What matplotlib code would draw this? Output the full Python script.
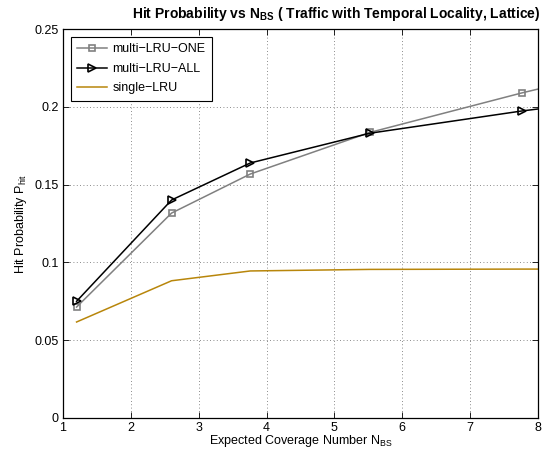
import matplotlib
matplotlib.use("Agg")
import matplotlib.pyplot as plt

# data
x_vals = [1.2, 2.6, 3.76, 5.52, 7.76, 10.0]
one_vals = [0.0713, 0.1317, 0.1568, 0.1835, 0.2089, 0.2322]
all_vals = [0.0750, 0.1401, 0.1639, 0.1830, 0.1973, 0.2094]
single_vals = [0.0617, 0.0882, 0.0945, 0.0955, 0.0957, 0.0957]
series_labels = ["multi\u2212LRU\u2212ONE", "multi\u2212LRU\u2212ALL", "single\u2212LRU"]
x_ticks = [1, 2, 3, 4, 5, 6, 7, 8]
y_ticks = [0, 0.05, 0.1, 0.15, 0.2, 0.25]
y_ticklabels = ["0", "0.05", "0.1", "0.15", "0.2", "0.25"]

plt.rcParams['font.family'] = ['Liberation Sans', 'DejaVu Sans']
plt.rcParams['mathtext.fontset'] = 'custom'
plt.rcParams['mathtext.rm'] = 'Liberation Sans'
plt.rcParams['mathtext.bf'] = 'Liberation Sans:bold'

fig = plt.figure(figsize=(5.45, 4.5), dpi=100)
ax = fig.add_axes([63/545, 1-418/450, (538-63)/545, (418-29)/450])

ax.plot(x_vals, one_vals, color='#808080', lw=1.1, marker='s', ms=4.5,
        mfc='none', mec='#808080', mew=1.2, label=series_labels[0])
ax.plot(x_vals, all_vals, color='black', lw=1.1, marker='>', ms=5.5,
        mfc='none', mec='black', mew=1.2, label=series_labels[1])
ax.plot(x_vals, single_vals, color='#B8860B', lw=1.1, label=series_labels[2])

ax.set_xlim(1, 8)
ax.set_ylim(0, 0.25)
ax.set_xticks(x_ticks)
ax.set_yticks(y_ticks)
ax.set_yticklabels(y_ticklabels)
ax.tick_params(direction='in', top=True, right=True, labelsize=9, length=4, width=0.6, pad=3)
ax.grid(True, linestyle=(0, (1, 3)), color='#666666', lw=0.6)
for s in ax.spines.values():
    s.set_linewidth(0.9)

ax.set_xlabel(r"Expected Coverage Number N$_{\mathregular{BS}}$", fontsize=9, labelpad=-1)
ax.set_ylabel(r"Hit Probability P$_{\mathregular{hit}}$", fontsize=9, labelpad=4)
fig.text(336/545, 1-14/450,
         r"Hit Probability vs N$_{\mathbf{BS}}$ ( Traffic with Temporal Locality, Lattice)",
         ha='center', va='center', fontsize=10, fontweight='bold')

leg = ax.legend(loc='upper left', fontsize=9, fancybox=False, edgecolor='black',
                framealpha=1, borderaxespad=0.6, handlelength=2.4, handletextpad=0.4,
                labelspacing=0.6, borderpad=0.55)
leg.get_frame().set_linewidth(0.8)

fig.savefig("out.png", dpi=100)
